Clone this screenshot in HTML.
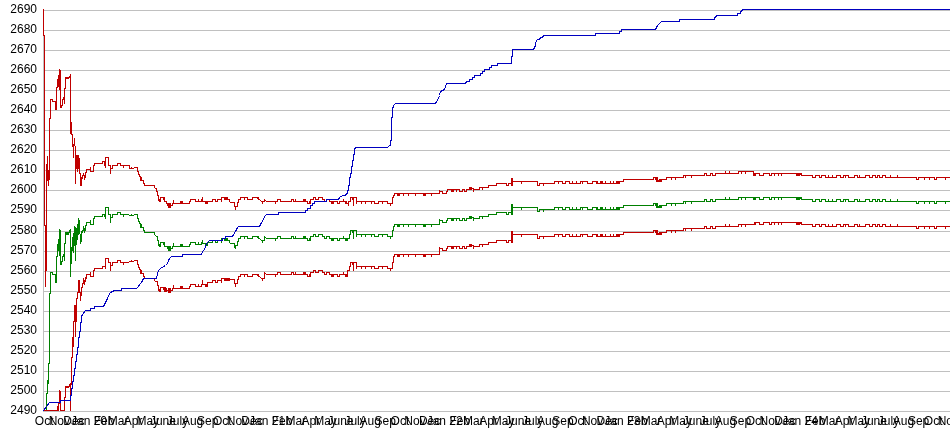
<!DOCTYPE html>
<html><head><meta charset="utf-8"><title>Chart</title>
<style>html,body{margin:0;padding:0;background:#fff;overflow:hidden}svg{display:block}text{font-family:"Liberation Sans",Arial,sans-serif;font-size:12px;fill:#000}</style></head><body>
<svg width="950" height="435" viewBox="0 0 950 435">
<rect width="950" height="435" fill="#fff"/>
<g stroke="#c0c0c0" stroke-width="1" shape-rendering="crispEdges">
<line x1="44" y1="10.5" x2="950" y2="10.5"/><line x1="44" y1="30.5" x2="950" y2="30.5"/><line x1="44" y1="50.5" x2="950" y2="50.5"/><line x1="44" y1="70.5" x2="950" y2="70.5"/><line x1="44" y1="90.5" x2="950" y2="90.5"/><line x1="44" y1="110.5" x2="950" y2="110.5"/><line x1="44" y1="130.5" x2="950" y2="130.5"/><line x1="44" y1="150.5" x2="950" y2="150.5"/><line x1="44" y1="170.5" x2="950" y2="170.5"/><line x1="44" y1="190.5" x2="950" y2="190.5"/><line x1="44" y1="210.5" x2="950" y2="210.5"/><line x1="44" y1="231.5" x2="950" y2="231.5"/><line x1="44" y1="251.5" x2="950" y2="251.5"/><line x1="44" y1="271.5" x2="950" y2="271.5"/><line x1="44" y1="291.5" x2="950" y2="291.5"/><line x1="44" y1="311.5" x2="950" y2="311.5"/><line x1="44" y1="331.5" x2="950" y2="331.5"/><line x1="44" y1="351.5" x2="950" y2="351.5"/><line x1="44" y1="371.5" x2="950" y2="371.5"/><line x1="44" y1="391.5" x2="950" y2="391.5"/><line x1="44" y1="411.5" x2="950" y2="411.5"/><line x1="43.5" y1="10" x2="43.5" y2="412"/></g>
<g text-anchor="end">
<text x="37" y="13">2690</text><text x="37" y="33">2680</text><text x="37" y="53">2670</text><text x="37" y="73">2660</text><text x="37" y="93">2650</text><text x="37" y="113">2640</text><text x="37" y="133">2630</text><text x="37" y="153">2620</text><text x="37" y="173">2610</text><text x="37" y="193">2600</text><text x="37" y="213">2590</text><text x="37" y="234">2580</text><text x="37" y="254">2570</text><text x="37" y="274">2560</text><text x="37" y="294">2550</text><text x="37" y="314">2540</text><text x="37" y="334">2530</text><text x="37" y="354">2520</text><text x="37" y="374">2510</text><text x="37" y="394">2500</text><text x="37" y="414">2490</text></g>
<g text-anchor="middle">
<text x="44.2" y="425">Oct</text><text x="59.3" y="425">Nov</text><text x="73.9" y="425">Dec</text><text x="89.0" y="425">Jan 20</text><text x="104.1" y="425">Feb</text><text x="118.2" y="425">Mar</text><text x="133.2" y="425">Apr</text><text x="147.8" y="425">May</text><text x="162.9" y="425">June</text><text x="177.5" y="425">July</text><text x="192.6" y="425">Aug</text><text x="207.7" y="425">Sep</text><text x="222.3" y="425">Oct</text><text x="237.4" y="425">Nov</text><text x="252.0" y="425">Dec</text><text x="267.1" y="425">Jan 21</text><text x="282.1" y="425">Feb</text><text x="295.8" y="425">Mar</text><text x="310.9" y="425">Apr</text><text x="325.5" y="425">May</text><text x="340.5" y="425">June</text><text x="355.1" y="425">July</text><text x="370.2" y="425">Aug</text><text x="385.3" y="425">Sep</text><text x="399.9" y="425">Oct</text><text x="415.0" y="425">Nov</text><text x="429.6" y="425">Dec</text><text x="444.7" y="425">Jan 22</text><text x="459.8" y="425">Feb</text><text x="473.4" y="425">Mar</text><text x="488.5" y="425">Apr</text><text x="503.1" y="425">May</text><text x="518.1" y="425">June</text><text x="532.7" y="425">July</text><text x="547.8" y="425">Aug</text><text x="562.9" y="425">Sep</text><text x="577.5" y="425">Oct</text><text x="592.6" y="425">Nov</text><text x="607.2" y="425">Dec</text><text x="622.3" y="425">Jan 23</text><text x="637.4" y="425">Feb</text><text x="651.0" y="425">Mar</text><text x="666.1" y="425">Apr</text><text x="680.7" y="425">May</text><text x="695.8" y="425">June</text><text x="710.4" y="425">July</text><text x="725.4" y="425">Aug</text><text x="740.5" y="425">Sep</text><text x="755.1" y="425">Oct</text><text x="770.2" y="425">Nov</text><text x="784.8" y="425">Dec</text><text x="799.9" y="425">Jan 24</text><text x="815.0" y="425">Feb</text><text x="829.1" y="425">Mar</text><text x="844.2" y="425">Apr</text><text x="858.8" y="425">May</text><text x="873.9" y="425">June</text><text x="888.5" y="425">July</text><text x="903.5" y="425">Aug</text><text x="918.6" y="425">Sep</text><text x="933.2" y="425">Oct</text><text x="948.3" y="425">Nov</text><text x="962.9" y="425">Dec</text></g>
<path d="M43.5 9V36M44.5 35V226M45.5 225V287M46.5 164V271M47.5 156V181M48.5 170V186M49.5 118V180M50.5 99V119M51.5 99V100M52.5 99V102M53.5 101V102M54.5 101V102M55.5 101V110M56.5 87V110M57.5 79V88M58.5 75V87M59.5 69V90M60.5 70V108M61.5 105V108M62.5 99V106M63.5 97V100M64.5 88V104M65.5 77V89M66.5 77V79M67.5 77V79M68.5 77V79M69.5 76V78M70.5 74V134M71.5 122V135M72.5 134V147M73.5 144V158M74.5 138V146M75.5 146V184M76.5 155V169M77.5 155V172M78.5 155V169M79.5 158V174M80.5 173V186M81.5 177V186M82.5 175V179M83.5 173V176M84.5 175V180M85.5 172V178M86.5 169V173M86 169.5H90M90.5 167V172M91 171.5H93M93 165.5H94M93.5 165V172M94 163.5H102M94.5 163V166M102 161.5H104M102.5 161V164M104 165.5H105M104.5 161V166M105.5 157V168M106 157.5H108M108 165.5H110M108.5 157V166M110.5 165V174M111 168.5H112M112 165.5H117M112.5 165V169M117 163.5H120M117.5 163V166M120 165.5H123M120.5 163V166M123.5 165V168M124 165.5H129M129 168.5H131M129.5 165V169M131.5 167V169M132 168.5H134M134 167.5H137M137 171.5H138M137.5 167V172M138 174.5H139M138.5 171V175M139 176.5H140M139.5 174V177M140.5 176V181M141.5 177V181M142 180.5H143M143 183.5H144M143.5 180V184M144 185.5H154M144.5 183V186M154 187.5H155M154.5 185V188M155 188.5H156M156 191.5H157M156.5 188V192M157 195.5H158M157.5 191V196M158.5 195V201M159.5 199V202M160.5 197V202M161 197.5H163M163.5 197V200M164.5 197V202M165 201.5H166M166 203.5H167M166.5 201V204M167 205.5H168M167.5 203V206M168.5 203V208M169.5 203V208M170.5 203V208M171 205.5H172M172 203.5H173M172.5 203V206M173.5 200V204M174 203.5H180M180.5 201V204M181.5 201V204M182.5 201V204M183 203.5H189M189 201.5H190M189.5 201V204M190 199.5H195M190.5 199V202M195 201.5H198M195.5 199V202M198.5 199V202M199 201.5H201M201 199.5H202M201.5 199V202M202.5 197V202M203 201.5H205M205.5 201V204M206.5 201V204M207.5 201V204M208 201.5H212M212 199.5H215M212.5 199V202M215 201.5H217M215.5 199V202M217 199.5H221M217.5 199V202M221.5 197V202M222 197.5H224M224.5 197V200M225.5 197V200M226.5 197V200M227.5 197V200M228 199.5H229M229 201.5H230M229.5 199V202M230 202.5H234M234 206.5H235M234.5 202V207M235.5 206V210M236 206.5H237M237 202.5H238M237.5 202V207M238 199.5H240M238.5 199V203M240 197.5H244M240.5 197V200M244.5 197V200M245 197.5H247M247 199.5H252M247.5 197V200M252 197.5H257M252.5 197V200M257.5 197V199M258.5 197V200M259 199.5H260M260 200.5H261M261 201.5H262M262.5 201V204M263 201.5H264M264.5 199V202M265 200.5H266M266 201.5H275M275.5 201V204M276 201.5H277M277 199.5H280M277.5 199V202M280 201.5H291M280.5 199V202M291 199.5H293M291.5 199V202M293 201.5H295M293.5 199V202M295.5 199V202M296 201.5H303M303.5 199V202M304.5 199V202M305.5 199V202M306 201.5H307M307 203.5H309M307.5 201V204M309.5 201V204M310.5 199V204M311 199.5H313M313 197.5H315M313.5 197V200M315 199.5H318M315.5 197V200M318 197.5H322M318.5 197V200M322 199.5H324M322.5 197V200M324 201.5H326M324.5 199V202M326 199.5H329M326.5 199V202M329 201.5H331M329.5 199V202M331.5 201V204M332.5 201V204M333.5 201V204M334 201.5H337M337 203.5H339M337.5 201V204M339 201.5H343M339.5 201V204M343.5 199V202M344 201.5H345M345.5 201V204M346.5 201V204M347 203.5H348M348.5 201V206M349 201.5H350M350 197.5H352M350.5 197V202M352 199.5H353M352.5 197V200M353.5 197V206M354 197.5H356M356.5 197V204M357 201.5H361M361.5 201V204M362 201.5H365M365.5 201V204M366 201.5H371M371.5 201V204M372 201.5H374M374 203.5H378M374.5 201V204M378 201.5H382M378.5 201V204M382.5 201V204M383 201.5H387M387 203.5H390M387.5 201V204M390.5 203V206M391 203.5H392M392 197.5H393M392.5 197V204M393 195.5H394M393.5 195V198M394 193.5H397M394.5 193V196M397.5 193V196M398.5 193V196M399.5 193V196M400 193.5H403M403.5 193V196M404 193.5H408M408.5 193V196M409 193.5H415M415.5 193V196M416 193.5H423M423.5 193V196M424.5 193V196M425.5 193V196M426 193.5H431M431.5 193V196M432 193.5H439M439.5 190V194M440 191.5H442M442 193.5H446M442.5 191V194M446 191.5H447M446.5 191V194M447 189.5H451M447.5 189V192M451.5 189V192M452.5 189V192M453.5 189V192M454 189.5H456M456.5 189V192M457 189.5H459M459 191.5H462M459.5 189V192M462 189.5H464M462.5 189V192M464 191.5H466M464.5 189V192M466 189.5H469M466.5 189V192M469.5 187V190M470.5 187V190M471.5 187V190M472 188.5H473M473.5 188V192M474 189.5H479M479 187.5H482M479.5 187V190M482.5 187V190M483 187.5H488M488 185.5H496M488.5 185V188M496 183.5H506M496.5 183V186M506 185.5H508M506.5 183V186M508 183.5H511M508.5 183V186M511.5 178V186M512.5 178V186M513 181.5H521M521.5 181V184M522 181.5H537M537 185.5H539M537.5 181V186M539 183.5H543M539.5 183V186M543.5 183V186M544 183.5H554M554 181.5H558M554.5 181V184M558.5 181V184M559 181.5H562M562 183.5H565M562.5 181V184M565 181.5H569M565.5 181V184M569 183.5H572M569.5 181V184M572.5 181V184M573 183.5H576M576.5 181V184M577 183.5H580M580 181.5H582M580.5 181V184M582.5 181V184M583 181.5H587M587 183.5H592M587.5 181V184M592 181.5H596M592.5 181V184M596.5 181V184M597.5 181V184M598 183.5H600M600.5 181V184M601.5 181V184M602.5 181V184M603 183.5H605M605.5 181V184M606 183.5H610M610.5 181V184M611 183.5H613M613.5 181V184M614 183.5H616M616.5 181V184M617.5 181V184M618.5 181V184M619.5 181V184M620 181.5H623M623 179.5H653M623.5 179V182M653 177.5H655M653.5 177V180M655.5 177V180M656.5 177V182M657.5 177V182M658.5 180V182M659.5 179V182M660.5 179V182M661.5 179V182M662 179.5H666M666 177.5H671M666.5 177V180M671.5 177V180M672 177.5H675M675.5 177V180M676 177.5H683M683 175.5H685M683.5 175V178M685.5 175V178M686 175.5H691M691.5 175V178M692 175.5H704M704 173.5H706M704.5 173V176M706 175.5H710M706.5 173V176M710 173.5H712M710.5 173V176M712 175.5H715M712.5 173V176M715 173.5H725M715.5 173V176M725.5 171V174M726 173.5H729M729.5 171V174M730 173.5H738M738 171.5H741M738.5 171V174M741.5 171V174M742 171.5H745M745.5 171V174M746 171.5H753M753.5 171V176M754.5 173V176M755.5 173V176M756 173.5H759M759 175.5H763M759.5 173V176M763 173.5H769M763.5 173V176M769 175.5H771M769.5 173V176M771 173.5H774M771.5 173V176M774.5 173V176M775 173.5H778M778.5 173V176M779 173.5H781M781.5 173V176M782 173.5H796M796.5 173V176M797.5 173V176M798.5 173V176M799.5 173V176M800.5 173V175M801.5 173V176M802 175.5H812M812 177.5H815M812.5 175V178M815 175.5H819M815.5 175V178M819 177.5H821M819.5 175V178M821 175.5H825M821.5 175V178M825 177.5H828M825.5 175V178M828.5 175V178M829 177.5H832M832.5 175V178M833 177.5H836M836 175.5H840M836.5 175V178M840 177.5H843M840.5 175V178M843 175.5H845M843.5 175V178M845.5 175V178M846 175.5H848M848 177.5H854M848.5 175V178M854 175.5H857M854.5 175V178M857 177.5H859M857.5 175V178M859.5 175V178M860 177.5H865M865 175.5H869M865.5 175V178M869 177.5H872M869.5 175V178M872 175.5H875M872.5 175V178M875 177.5H877M875.5 175V178M877 175.5H879M877.5 175V178M879 177.5H882M879.5 175V178M882 175.5H885M882.5 175V178M885 177.5H890M885.5 175V178M890.5 175V178M891 177.5H897M897.5 175V178M898 177.5H916M916 179.5H918M916.5 177V180M918 177.5H924M918.5 177V180M924.5 177V180M925 177.5H929M929.5 177V180M930 177.5H934M934 179.5H936M934.5 177V180M936 177.5H945M936.5 177V180M945.5 177V180M946 177.5H950" fill="none" stroke="#c00000" stroke-width="1" shape-rendering="crispEdges"/>
<path d="M46.5 393V410M47.5 380V394M48.5 363V384M49.5 293V364M50.5 272V294M51.5 272V273M52.5 272V275M53.5 274V275M54.5 274V275M55.5 274V283M56.5 256V283M57.5 244V257M58.5 239V251M59.5 229V256M60.5 230V265M61.5 261V265M62.5 256V262M63.5 254V257M64.5 243V261M65.5 232V244M66.5 232V235M67.5 232V235M68.5 232V235M69.5 230V233M70.5 229V277M71.5 247V264M72.5 237V251M73.5 233V253M74.5 226V246M75.5 227V261M76.5 228V245M77.5 224V240M78.5 218V235M79.5 220V234M80.5 234V244M81.5 231V242M82.5 230V233M83.5 226V231M84.5 228V233M85.5 225V231M86.5 222V226M86 222.5H90M90.5 220V225M91 224.5H93M93 218.5H94M93.5 218V225M94 216.5H102M94.5 216V219M102 214.5H104M102.5 214V217M104 216.5H105M104.5 214V217M105.5 207V219M106 207.5H108M108 214.5H110M108.5 207V215M110.5 214V223M111 217.5H112M112 214.5H117M112.5 214V218M117 212.5H120M117.5 212V215M120 214.5H123M120.5 212V215M123.5 214V217M124 214.5H129M129 215.5H131M131.5 214V216M132 215.5H134M134 214.5H137M137 218.5H138M137.5 214V219M138 221.5H139M138.5 218V222M139 223.5H140M139.5 221V224M140.5 223V228M141.5 224V228M142 227.5H143M143 230.5H144M143.5 227V231M144 232.5H154M144.5 230V233M154 234.5H155M154.5 232V235M155 235.5H156M156 236.5H157M157 240.5H158M157.5 236V241M158.5 240V246M159.5 244V247M160.5 242V247M161 242.5H163M163.5 242V245M164.5 242V247M165 246.5H167M167 248.5H168M167.5 246V249M168.5 246V251M169.5 246V251M170.5 246V251M171 248.5H172M172 246.5H173M172.5 246V249M173.5 243V247M174 246.5H180M180.5 244V247M181.5 244V247M182.5 244V247M183 246.5H189M189 244.5H190M189.5 244V247M190 242.5H195M190.5 242V245M195 244.5H198M195.5 242V245M198.5 242V245M199 244.5H201M201 242.5H202M201.5 242V245M202.5 240V244M203 243.5H205M205.5 243V246M206.5 243V246M207.5 242V246M208 242.5H212M212 240.5H215M212.5 240V243M215 242.5H217M215.5 240V243M217 240.5H221M217.5 240V243M221.5 238V243M222 238.5H224M224.5 238V241M225.5 238V241M226.5 238V241M227.5 238V241M228 240.5H229M229 242.5H230M229.5 240V243M230 243.5H234M234 247.5H235M234.5 243V248M235.5 245V249M236 245.5H237M237 241.5H238M237.5 241V246M238 238.5H240M238.5 238V242M240 236.5H244M240.5 236V239M244.5 236V239M245 236.5H247M247 238.5H252M247.5 236V239M252 236.5H257M252.5 236V239M257.5 236V238M258.5 236V239M259 238.5H260M260 239.5H261M261 240.5H262M262.5 240V243M263 240.5H264M264.5 236V241M265 237.5H266M266 238.5H275M275.5 238V241M276 238.5H277M277 236.5H280M277.5 236V239M280 238.5H291M280.5 236V239M291 236.5H293M291.5 236V239M293 238.5H295M293.5 236V239M295.5 236V239M296 238.5H303M303.5 236V239M304.5 236V239M305.5 236V239M306 238.5H307M307 240.5H309M307.5 238V241M309.5 238V241M310.5 236V241M311 236.5H313M313 234.5H315M313.5 234V237M315 236.5H318M315.5 234V237M318 234.5H322M318.5 234V237M322 236.5H324M322.5 234V237M324 238.5H326M324.5 236V239M326 236.5H329M326.5 236V239M329 238.5H331M329.5 236V239M331.5 238V241M332.5 238V241M333.5 238V241M334 238.5H337M337 240.5H339M337.5 238V241M339 238.5H343M339.5 238V241M343.5 236V239M344 238.5H345M345.5 238V241M346.5 238V241M347.5 238V241M348 238.5H349M349 234.5H350M349.5 234V239M350 230.5H352M350.5 230V235M352 232.5H353M352.5 230V233M353.5 230V239M354 230.5H356M356.5 230V237M357 234.5H361M361.5 234V237M362 234.5H365M365.5 234V237M366 234.5H371M371.5 234V237M372 234.5H374M374 236.5H378M374.5 234V237M378 234.5H382M378.5 234V237M382.5 234V237M383 234.5H387M387 236.5H390M387.5 234V237M390.5 236V239M391 236.5H392M392 230.5H393M392.5 230V237M393 226.5H394M393.5 226V231M394 224.5H397M394.5 224V227M397.5 224V227M398.5 224V227M399.5 224V227M400 224.5H403M403.5 224V227M404 224.5H408M408.5 224V227M409 224.5H415M415.5 224V227M416 224.5H423M423.5 224V227M424.5 224V227M425.5 224V227M426 224.5H431M431.5 224V227M432 224.5H439M439.5 219V225M440 220.5H442M442 222.5H446M442.5 220V223M446 220.5H447M446.5 220V223M447 218.5H451M447.5 218V221M451.5 218V221M452.5 218V221M453.5 218V221M454 218.5H456M456.5 218V221M457 218.5H459M459 220.5H462M459.5 218V221M462 218.5H464M462.5 218V221M464 220.5H466M464.5 218V221M466 218.5H469M466.5 218V221M469.5 216V219M470.5 216V219M471.5 216V219M472 217.5H473M473.5 217V221M474 218.5H479M479 216.5H482M479.5 216V219M482.5 216V219M483 216.5H488M488 214.5H496M488.5 214V217M496 212.5H506M496.5 212V215M506 214.5H508M506.5 212V215M508 212.5H511M508.5 212V215M511.5 204V215M512.5 204V215M513 207.5H521M521.5 207V210M522 207.5H537M537 211.5H539M537.5 207V212M539 209.5H543M539.5 209V212M543.5 209V212M544 209.5H554M554 207.5H558M554.5 207V210M558.5 207V210M559 207.5H562M562 209.5H565M562.5 207V210M565 207.5H569M565.5 207V210M569 209.5H572M569.5 207V210M572.5 207V210M573 209.5H576M576.5 207V210M577 209.5H580M580 207.5H582M580.5 207V210M582.5 207V210M583 207.5H587M587 209.5H592M587.5 207V210M592 207.5H596M592.5 207V210M596.5 207V210M597.5 207V210M598 209.5H600M600.5 207V210M601.5 207V210M602.5 207V210M603 209.5H605M605.5 207V210M606 209.5H610M610.5 207V210M611 209.5H613M613.5 207V210M614 209.5H616M616.5 207V210M617.5 207V210M618.5 207V210M619.5 207V210M620 207.5H623M623 205.5H653M623.5 205V208M653 203.5H655M653.5 203V206M655.5 203V206M656.5 203V208M657.5 203V208M658.5 206V208M659.5 205V208M660.5 205V208M661.5 205V208M662 205.5H666M666 203.5H671M666.5 203V206M671.5 203V206M672 203.5H675M675.5 203V206M676 203.5H683M683 201.5H685M683.5 201V204M685.5 201V204M686 201.5H691M691.5 201V204M692 201.5H704M704 199.5H706M704.5 199V202M706 201.5H710M706.5 199V202M710 199.5H712M710.5 199V202M712 201.5H715M712.5 199V202M715 199.5H725M715.5 199V202M725.5 197V200M726 199.5H729M729.5 197V200M730 199.5H738M738 197.5H741M738.5 197V200M741.5 197V200M742 197.5H745M745.5 197V200M746 197.5H753M753.5 197V200M754.5 197V200M755.5 197V200M756 197.5H759M759 199.5H763M759.5 197V200M763 197.5H769M763.5 197V200M769 199.5H771M769.5 197V200M771 197.5H774M771.5 197V200M774.5 197V200M775 197.5H778M778.5 197V200M779 197.5H781M781.5 197V200M782 197.5H796M796.5 197V200M797.5 197V200M798.5 197V200M799.5 197V200M800.5 197V199M801.5 197V200M802 199.5H812M812 201.5H815M812.5 199V202M815 199.5H819M815.5 199V202M819 201.5H821M819.5 199V202M821 199.5H825M821.5 199V202M825 201.5H828M825.5 199V202M828.5 199V202M829 201.5H832M832.5 199V202M833 201.5H836M836 199.5H840M836.5 199V202M840 201.5H843M840.5 199V202M843 199.5H845M843.5 199V202M845.5 199V202M846 199.5H848M848 201.5H854M848.5 199V202M854 199.5H857M854.5 199V202M857 201.5H859M857.5 199V202M859.5 199V202M860 201.5H865M865 199.5H869M865.5 199V202M869 201.5H872M869.5 199V202M872 199.5H875M872.5 199V202M875 201.5H877M875.5 199V202M877 199.5H879M877.5 199V202M879 201.5H882M879.5 199V202M882 199.5H885M882.5 199V202M885 201.5H890M885.5 199V202M890.5 199V202M891 201.5H897M897.5 199V202M898 201.5H916M916 203.5H918M916.5 201V204M918 201.5H924M918.5 201V204M924.5 201V204M925 201.5H929M929.5 201V204M930 201.5H934M934 203.5H936M934.5 201V204M936 201.5H945M936.5 201V204M945.5 201V204M946 201.5H950" fill="none" stroke="#008000" stroke-width="1" shape-rendering="crispEdges"/>
<path d="M57.5 406V411M58.5 402V411M59.5 390V404M60.5 391V411M64.5 397V411M65.5 386V398M66.5 386V388M67.5 386V388M68.5 386V388M69.5 384V387M70.5 383V411M71.5 357V385M72.5 337V358M73.5 321V347M74.5 305V322M75.5 305V337M76.5 298V322M77.5 292V299M78.5 280V293M79.5 280V293M80.5 292V301M81.5 287V296M82.5 283V288M83.5 278V284M84.5 280V285M85.5 277V282M86.5 274V279M44 410.5H58M60 410.5H65M86 274.5H90M90.5 272V277M91 276.5H93M93 270.5H94M93.5 270V277M94 268.5H102M94.5 268V271M102 266.5H105M102.5 266V269M105.5 258V269M106 258.5H108M108 262.5H110M108.5 258V263M110.5 262V271M111 265.5H112M112 262.5H117M112.5 262V266M117 260.5H120M117.5 260V263M120 262.5H123M120.5 260V263M123.5 262V265M124 262.5H129M129 261.5H131M131.5 260V262M132 261.5H134M134 260.5H137M137 264.5H138M137.5 260V265M138 267.5H139M138.5 264V268M139 269.5H140M139.5 267V270M140.5 269V274M141.5 270V274M142 273.5H143M143 276.5H144M143.5 273V277M144 278.5H154M144.5 276V279M154 280.5H155M154.5 278V281M155 281.5H157M157 285.5H158M157.5 281V286M158.5 285V291M159.5 289V292M160.5 287V292M161 287.5H163M163.5 287V290M164.5 287V292M165.5 287V292M166.5 288V292M167 290.5H168M168.5 288V293M169.5 288V293M170.5 288V293M171 290.5H172M172 288.5H173M172.5 288V291M173.5 285V289M174 288.5H180M180.5 286V289M181.5 286V289M182.5 286V289M183 288.5H189M189 286.5H190M189.5 286V289M190 284.5H195M190.5 284V287M195 286.5H198M195.5 284V287M198.5 284V287M199 286.5H201M201 284.5H202M201.5 284V287M202.5 280V285M203 284.5H205M205.5 284V287M206.5 284V287M207.5 282V287M208 282.5H212M212 280.5H215M212.5 280V283M215 282.5H217M215.5 280V283M217 280.5H221M217.5 280V283M221.5 278V283M222 278.5H224M224.5 278V281M225.5 278V281M226.5 278V281M227.5 278V281M228.5 278V281M229.5 278V281M230 279.5H234M234 283.5H235M234.5 279V284M235.5 283V287M236 283.5H237M237 279.5H238M237.5 279V284M238 276.5H240M238.5 276V280M240 274.5H244M240.5 274V277M244.5 274V277M245 274.5H247M247 276.5H252M247.5 274V277M252 274.5H257M252.5 274V277M257.5 274V276M258.5 274V277M259 276.5H260M260 277.5H261M261 278.5H262M262.5 278V281M263 278.5H264M264.5 272V279M265 273.5H266M266 274.5H275M275.5 274V277M276 274.5H277M277 272.5H280M277.5 272V275M280 274.5H291M280.5 272V275M291 272.5H293M291.5 272V275M293 274.5H295M293.5 272V275M295.5 272V275M296 274.5H303M303.5 272V275M304.5 272V275M305.5 272V275M306 274.5H307M307 276.5H309M307.5 274V277M309.5 274V277M310.5 272V277M311 272.5H313M313 270.5H315M313.5 270V273M315 272.5H318M315.5 270V273M318 270.5H322M318.5 270V273M322 272.5H324M322.5 270V273M324 274.5H326M324.5 272V275M326 272.5H329M326.5 272V275M329 274.5H331M329.5 272V275M331.5 274V277M332.5 274V277M333.5 274V277M334 274.5H337M337 276.5H339M337.5 274V277M339 274.5H343M339.5 274V277M343.5 272V275M344 274.5H345M345.5 274V277M346.5 274V277M347.5 270V277M348 270.5H349M349 266.5H350M349.5 266V271M350 262.5H352M350.5 262V267M352 264.5H353M352.5 262V265M353.5 262V271M354 262.5H356M356.5 262V269M357 266.5H361M361.5 266V269M362 266.5H365M365.5 266V269M366 266.5H371M371.5 266V269M372 266.5H374M374 268.5H378M374.5 266V269M378 266.5H382M378.5 266V269M382.5 266V269M383 266.5H387M387 268.5H390M387.5 266V269M390.5 268V271M391 268.5H392M392 262.5H393M392.5 262V269M393 256.5H394M393.5 256V263M394 254.5H397M394.5 254V257M397.5 254V257M398.5 254V257M399.5 254V257M400 254.5H403M403.5 254V257M404 254.5H408M408.5 254V257M409 254.5H415M415.5 254V257M416 254.5H423M423.5 254V257M424.5 254V257M425.5 254V257M426 254.5H431M431.5 254V257M432 254.5H439M439.5 247V255M440 248.5H442M442 250.5H446M442.5 248V251M446 248.5H447M446.5 248V251M447 246.5H451M447.5 246V249M451.5 246V249M452.5 246V249M453.5 246V249M454 246.5H456M456.5 246V249M457 246.5H459M459 248.5H462M459.5 246V249M462 246.5H464M462.5 246V249M464 248.5H466M464.5 246V249M466 246.5H469M466.5 246V249M469.5 244V247M470.5 244V247M471.5 244V247M472 245.5H473M473.5 245V249M474 246.5H479M479 244.5H482M479.5 244V247M482.5 244V247M483 244.5H488M488 242.5H496M488.5 242V245M496 240.5H506M496.5 240V243M506 242.5H508M506.5 240V243M508 240.5H511M508.5 240V243M511.5 231V243M512.5 231V243M513 234.5H521M521.5 234V237M522 234.5H537M537 238.5H539M537.5 234V239M539 236.5H543M539.5 236V239M543.5 236V239M544 236.5H554M554 234.5H558M554.5 234V237M558.5 234V237M559 234.5H562M562 236.5H565M562.5 234V237M565 234.5H569M565.5 234V237M569 236.5H572M569.5 234V237M572.5 234V237M573 236.5H576M576.5 234V237M577 236.5H580M580 234.5H582M580.5 234V237M582.5 234V237M583 234.5H587M587 236.5H592M587.5 234V237M592 234.5H596M592.5 234V237M596.5 234V237M597.5 234V237M598 236.5H600M600.5 234V237M601.5 234V237M602.5 234V237M603 236.5H605M605.5 234V237M606 236.5H610M610.5 234V237M611 236.5H613M613.5 234V237M614 236.5H616M616.5 234V237M617.5 234V237M618.5 234V237M619.5 234V237M620 234.5H623M623 232.5H653M623.5 232V235M653 230.5H655M653.5 230V233M655.5 230V233M656.5 230V235M657.5 230V235M658.5 233V235M659.5 232V235M660.5 232V235M661.5 232V235M662 232.5H666M666 230.5H671M666.5 230V233M671.5 230V233M672 230.5H675M675.5 230V233M676 230.5H683M683 228.5H685M683.5 228V231M685.5 228V231M686 228.5H691M691.5 228V231M692 228.5H704M704 226.5H706M704.5 226V229M706 228.5H710M706.5 226V229M710 226.5H712M710.5 226V229M712 228.5H715M712.5 226V229M715 226.5H725M715.5 226V229M725.5 224V227M726 226.5H729M729.5 224V227M730 226.5H738M738 224.5H741M738.5 224V227M741.5 224V227M742 224.5H745M745.5 224V227M746 224.5H754M754.5 222V225M755.5 222V225M756 222.5H759M759 224.5H763M759.5 222V225M763 222.5H769M763.5 222V225M769 224.5H771M769.5 222V225M771 222.5H774M771.5 222V225M774.5 222V225M775 222.5H778M778.5 222V225M779 222.5H781M781.5 222V225M782 222.5H796M796.5 222V225M797.5 222V225M798.5 222V225M799.5 222V225M800.5 222V224M801.5 222V225M802 224.5H812M812 226.5H815M812.5 224V227M815 224.5H819M815.5 224V227M819 226.5H821M819.5 224V227M821 224.5H825M821.5 224V227M825 226.5H828M825.5 224V227M828.5 224V227M829 226.5H832M832.5 224V227M833 226.5H836M836 224.5H840M836.5 224V227M840 226.5H843M840.5 224V227M843 224.5H845M843.5 224V227M845.5 224V227M846 224.5H848M848 226.5H854M848.5 224V227M854 224.5H857M854.5 224V227M857 226.5H859M857.5 224V227M859.5 224V227M860 226.5H865M865 224.5H869M865.5 224V227M869 226.5H872M869.5 224V227M872 224.5H875M872.5 224V227M875 226.5H877M875.5 224V227M877 224.5H879M877.5 224V227M879 226.5H882M879.5 224V227M882 224.5H885M882.5 224V227M885 226.5H890M885.5 224V227M890.5 224V227M891 226.5H897M897.5 224V227M898 226.5H916M916 228.5H918M916.5 226V229M918 226.5H924M918.5 226V229M924.5 226V229M925 226.5H929M929.5 226V229M930 226.5H934M934 228.5H936M934.5 226V229M936 226.5H945M936.5 226V229M945.5 226V229M946 226.5H950" fill="none" stroke="#c00000" stroke-width="1" shape-rendering="crispEdges"/>
<polyline points="43.5,410.5 49.5,402.5 60.5,402.5 60.5,400.5 70.5,400.5 70.5,395.5 71.5,395.5 71.5,388.5 72.5,388.5 72.5,381.5 73.5,381.5 73.5,375.5 74.5,375.5 74.5,368.5 75.5,368.5 75.5,361.5 76.5,361.5 76.5,354.5 77.5,354.5 77.5,347.5 78.5,347.5 78.5,337.5 79.5,337.5 79.5,331.5 80.5,331.5 80.5,322.5 81.5,322.5 81.5,316.5 82.5,314.5 83.5,313.5 84.5,311.5 85.5,310.5 90.5,310.5 90.5,308.5 94.5,308.5 94.5,306.5 103.5,306.5 105.5,302.5 107.5,298.5 108.5,295.5 110.5,292.5 112.5,291.5 114.5,290.5 121.5,290.5 121.5,288.5 136.5,288.5 138.5,286.5 139.5,284.5 141.5,282.5 142.5,280.5 143.5,278.5 156.5,278.5 158.5,270.5 160.5,268.5 163.5,266.5 165.5,265.5 167.5,263.5 168.5,260.5 169.5,258.5 171.5,256.5 182.5,256.5 182.5,254.5 201.5,254.5 202.5,251.5 204.5,249.5 205.5,246.5 206.5,243.5 207.5,242.5 209.5,240.5 222.5,240.5 222.5,238.5 225.5,238.5 225.5,236.5 232.5,236.5 233.5,234.5 235.5,231.5 236.5,229.5 237.5,227.5 238.5,226.5 259.5,226.5 261.5,222.5 263.5,219.5 264.5,216.5 266.5,214.5 278.5,214.5 278.5,212.5 305.5,212.5 305.5,210.5 307.5,210.5 307.5,208.5 310.5,208.5 310.5,205.5 312.5,205.5 312.5,203.5 314.5,203.5 314.5,201.5 326.5,201.5 326.5,199.5 338.5,199.5 339.5,197.5 342.5,195.5 345.5,195.5 346.5,193.5 347.5,193.5 347.5,190.5 348.5,190.5 348.5,185.5 349.5,185.5 349.5,177.5 350.5,177.5 350.5,173.5 351.5,173.5 351.5,166.5 352.5,166.5 352.5,160.5 353.5,160.5 353.5,154.5 354.5,154.5 354.5,148.5 355.5,148.5 355.5,147.5 387.5,147.5 388.5,146.5 389.5,145.5 390.5,145.5 390.5,140.5 391.5,140.5 391.5,117.5 392.5,117.5 392.5,107.5 393.5,107.5 393.5,105.5 394.5,104.5 395.5,103.5 435.5,103.5 436.5,101.5 438.5,98.5 439.5,95.5 440.5,91.5 444.5,89.5 446.5,83.5 465.5,83.5 466.5,81.5 469.5,81.5 469.5,79.5 472.5,79.5 472.5,77.5 474.5,77.5 474.5,75.5 480.5,75.5 480.5,73.5 482.5,73.5 482.5,71.5 484.5,71.5 484.5,69.5 489.5,69.5 489.5,67.5 491.5,67.5 491.5,65.5 497.5,65.5 497.5,63.5 511.5,63.5 511.5,56.5 512.5,56.5 512.5,49.5 533.5,49.5 534.5,47.5 535.5,45.5 535.5,43.5 536.5,40.5 537.5,39.5 539.5,39.5 540.5,37.5 542.5,37.5 543.5,35.5 595.5,35.5 595.5,33.5 619.5,33.5 619.5,31.5 621.5,31.5 621.5,29.5 655.5,29.5 656.5,27.5 657.5,25.5 659.5,23.5 661.5,21.5 679.5,21.5 679.5,19.5 714.5,19.5 714.5,17.5 715.5,17.5 716.5,15.5 737.5,15.5 737.5,13.5 740.5,13.5 740.5,11.5 741.5,11.5 742.5,9.5 949.5,9.5" fill="none" stroke="#0000c0" stroke-width="1" shape-rendering="crispEdges" stroke-linecap="square"/>
</svg>
</body></html>
